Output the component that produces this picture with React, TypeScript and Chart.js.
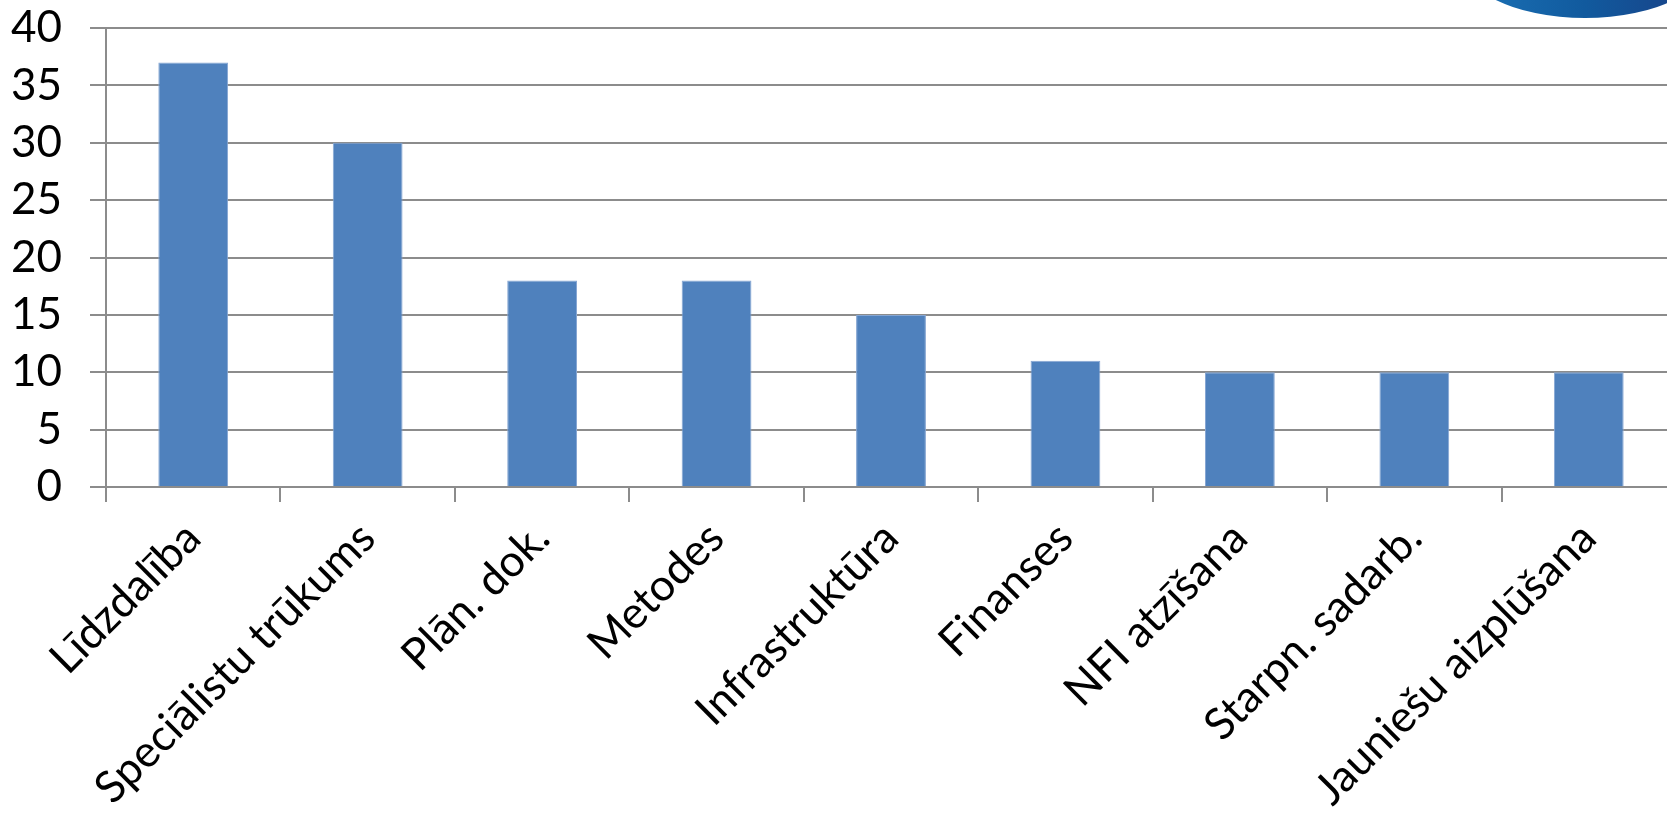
import React, { useEffect, useRef } from "react";
import { Chart, registerables } from "chart.js";

Chart.register(...registerables);

const categories = [
  "Līdzdalība",
  "Speciālistu trūkums",
  "Plān. dok.",
  "Metodes",
  "Infrastruktūra",
  "Finanses",
  "NFI atzīšana",
  "Starpn. sadarb.",
  "Jauniešu aizplūšana",
];
const values = [37, 30, 18, 18, 15, 11, 10, 10, 10];
const yMin = 0;
const yMax = 40;
const yStep = 5;

export default function App() {
  const ref = useRef<HTMLCanvasElement | null>(null);

  useEffect(() => {
    if (!ref.current) return;
    const font = { family: "Lato", size: 44 };
    const chart = new Chart(ref.current, {
      type: "bar",
      data: {
        labels: categories,
        datasets: [
          {
            data: values,
            backgroundColor: "#4F81BD",
            borderColor: "#86A6D3",
            borderWidth: 1,
            barPercentage: 0.4,
            categoryPercentage: 1.0,
          },
        ],
      },
      options: {
        animation: false,
        responsive: true,
        maintainAspectRatio: false,
        layout: { padding: 0 },
        plugins: { legend: { display: false }, tooltip: { enabled: false } },
        scales: {
          x: {
            grid: {
              drawOnChartArea: false,
              drawTicks: true,
              tickLength: 15,
              color: "#8C8C8C",
              lineWidth: 2,
            },
            border: { color: "#8C8C8C", width: 2 },
            ticks: {
              minRotation: 45,
              maxRotation: 45,
              autoSkip: false,
              font,
              color: "#000000",
              padding: 10,
            },
            afterFit: (s: any) => {
              s.height = 332;
            },
          },
          y: {
            min: yMin,
            max: yMax,
            grid: { color: "#8C8C8C", lineWidth: 2, tickLength: 16 },
            border: { color: "#8C8C8C", width: 2 },
            ticks: {
              stepSize: yStep,
              autoSkip: false,
              font,
              color: "#000000",
              padding: 28,
            },
            afterFit: (s: any) => {
              s.width = 106;
              s.paddingTop = 28;
              s.paddingBottom = 0;
            },
          },
        },
      },
    });
    return () => chart.destroy();
  }, []);

  return (
    <div
      style={{
        position: "fixed",
        left: 0,
        top: 0,
        width: 1667,
        height: 819,
        overflow: "hidden",
        background: "#ffffff",
      }}
    >
      <div style={{ position: "absolute", left: 0, top: 0, width: 1676, height: 819 }}>
        <canvas ref={ref} />
      </div>
      <div
        style={{
          position: "absolute",
          left: 1455,
          top: -114,
          width: 260,
          height: 132,
          borderRadius: "50%",
          background: "linear-gradient(90deg, #1c74b8 0%, #115a9e 50%, #1a3c82 100%)",
        }}
      />
    </div>
  );
}
